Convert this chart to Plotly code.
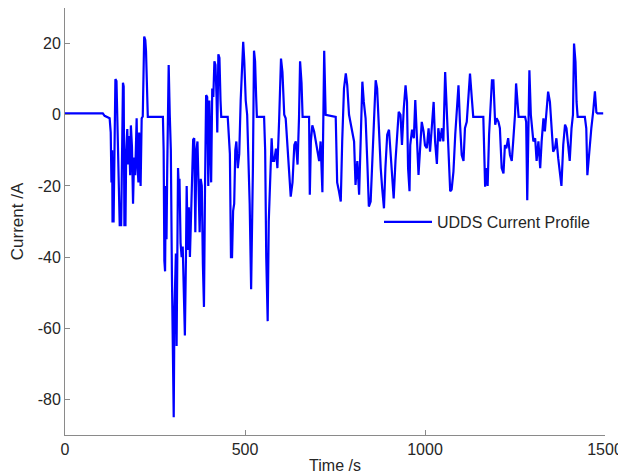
import plotly.graph_objects as go

# Time (s) and current (A)
time_s = [
    0, 105, 110, 124, 127, 129, 131, 132, 135, 137, 140, 143, 146, 149, 152, 156, 158, 161, 163,
    165, 168, 170, 173, 175, 178, 181, 183, 186, 189, 192, 195, 197, 199, 201, 204, 206, 208, 210,
    213, 216, 220, 223, 225, 227, 230, 272, 274, 276, 278, 280, 282, 284, 286, 288, 291, 294, 297,
    299, 302, 304, 306, 308, 310, 312, 314, 316, 318, 321, 324, 327, 330, 333, 336, 338, 341, 344,
    347, 350, 353, 356, 359, 362, 365, 368, 371, 374, 377, 380, 383, 386, 389, 392, 395, 398, 401,
    404, 406, 409, 412, 415, 418, 421, 423, 426, 429, 432, 434, 452, 455, 458, 461, 464, 467, 470,
    473, 476, 480, 484, 488, 492, 495, 498, 502, 506, 510, 513, 517, 520, 522, 525, 528, 531, 533,
    553, 556, 559, 563, 566, 570, 574, 577, 581, 586, 590, 595, 600, 604, 609, 613, 618, 623, 627,
    632, 637, 641, 646, 650, 653, 657, 660, 678, 680, 683, 687, 692, 697, 701, 706, 710, 715, 720,
    724, 752, 756, 761, 766, 770, 775, 780, 784, 789, 793, 798, 803, 807, 812, 817, 821, 826, 830,
    835, 840, 844, 849, 853, 858, 863, 867, 872, 877, 881, 886, 890, 895, 900, 904, 909, 913, 918,
    923, 927, 932, 936, 941, 946, 950, 953, 957, 959, 964, 969, 973, 978, 982, 987, 991, 996, 1000,
    1005, 1010, 1014, 1019, 1024, 1028, 1033, 1037, 1042, 1047, 1051, 1056, 1061, 1065, 1070, 1074,
    1079, 1084, 1088, 1093, 1097, 1102, 1107, 1111, 1116, 1120, 1125, 1130, 1134, 1162, 1165, 1167,
    1172, 1174, 1178, 1181, 1186, 1190, 1192, 1195, 1199, 1204, 1208, 1213, 1218, 1222, 1226, 1231,
    1236, 1241, 1245, 1250, 1253, 1258, 1260, 1278, 1281, 1284, 1287, 1290, 1294, 1297, 1301, 1306,
    1310, 1315, 1320, 1324, 1329, 1333, 1338, 1342, 1347, 1352, 1356, 1361, 1365, 1370, 1375, 1379,
    1384, 1389, 1393, 1398, 1402, 1407, 1411, 1414, 1418, 1421, 1424, 1444, 1448, 1451, 1454, 1457,
    1462, 1467, 1472, 1476, 1479, 1495,
]
current_a = [
    0.4, 0.4, -0.3, -1, -5, -19, -10, -30, -30, -5, 10, 9.5, -3, -20, -31, -31, -8, 9, 8,
    -31, -31, -10, -4, -14, -6, -17, -3, -9, -25, -12, -17, -4, -1, -14, -19, -5, -17, -20,
    -1, -0.5, 22, 21, 18, 8, -0.6, -0.6, -10, -41, -44, -20, -35, -15, 12, 14, 0, -10, -45,
    -68, -85, -55, -40, -39, -65, -45, -15, -20, -18, -36, -40, -37, -56, -62, -40, -20, -38, -26,
    -40, -30, -20, -7, -6.6, -33, -10, -7.5, -20, -33, -18, -20, -42, -54, -20, 5.5, 5, -20, 4,
    -10, -19, 7.4, 5, 15, 14, 5, -5, 17, 16, 4, -0.6, -0.6, -5, -11, -40, -40, -27, -25,
    -10, -7.5, -15, -11, 4, 12, 20.5, 15, 4, 0, -12, -25, -49, -30, -15, 18, 15, 5, -0.6,
    -0.6, -10, -40, -58, -30, -20, -6.6, -13, -13, -9.5, -15, -0.9, 15.8, 12, 0, -1, -8.5, -18, -23,
    -19, -8.5, -7.5, -14, -1, 15, 9, -0.6, -0.6, -22.5, -7.5, -3, -4.7, -7.5, -9.4, -13, -7.5, -21.8, 18,
    0, -0.6, -19, -21.5, -24.4, -7.5, 7.4, 11.6, 8.3, 0, -2, -4.7, -7.5, -19.7, -13, -22.5, -5.6, 9.3, 3.6,
    -1, -14, -25.8, -24.4, -13, 0.8, 9.7, 7.4, -5.6, -15, -20.6, -26.3, -15, -5.6, -4.2, -9.4, -18, -23.5, -13,
    -5.6, 0.8, 0, -8.5, 1.7, 8.3, 3.6, -15, -21.5, -8.5, -4.2, -6.6, 4.1, -7.5, -16.9, -8.5, -2, -4.7, -8.6,
    -9.4, -3.8, -10.4, -3.8, 3.6, -7.5, -13.8, -3.8, -7.5, -3.8, -7.5, 12, -1, -13, -21.5, -21,
    -16, -5.6, 0.8, 8.3, -2, -11.3, -13, -3.8, -2, 5.6, 11.6, 4.7, -0.6, -0.6, -15, -20.2,
    -15, -20, -5.6, -0.6, 9.7, 9.7, 5.6, -2.8, -1, -2, -3.8, -15, -16.5, -8.5, -9.4, -6.6,
    -11.3, -13, -7.5, 0, 8.8, 3.6, -0.6, -0.6, -2, -24, -5.6, 12.5, 0, -2.8, -7.5, -6.6,
    -13, -7.5, -15, -7.5, -1, -4.7, 1.7, 6.5, 3.6, -5.6, -10.4, -9.4, -6.6, -12.2, -16, -20,
    -8.5, -2.8, -3.8, -8.5, -13, -3.8, 0, 20, 14.9, 3.6, -0.6, -0.6, -3.8, -17, -13, -9.4,
    -3.8, 0.7, 6.6, 0.7, 0.4, 0.4,
]

x_ticks = [0, 500, 1000, 1500]
x_tick_labels = ["0", "500", "1000", "1500"]
y_ticks = [-80, -60, -40, -20, 0, 20]
y_tick_labels = ["-80", "-60", "-40", "-20", "0", "20"]

FONT = "Liberation Sans, Arial, Helvetica, sans-serif"
TEXT = "#262626"
AXIS = "#8a8a8a"

fig = go.Figure()
fig.add_trace(go.Scatter(
    x=time_s, y=current_a, mode="lines", name="UDDS Current Profile",
    line=dict(color="#0000ff", width=2.2),
))

# the page body adds an 8px offset, so margins are reduced accordingly
fig.update_layout(
    width=626, height=473,
    margin=dict(l=57, r=29, t=0, b=46),
    paper_bgcolor="white", plot_bgcolor="white",
    font=dict(family=FONT, size=16, color=TEXT),
    showlegend=True,
    legend=dict(
        x=314 / 540, y=213 / 427, xanchor="left", yanchor="middle",
        bgcolor="rgba(0,0,0,0)", borderwidth=0, font=dict(size=16, color=TEXT),
        itemwidth=48,
    ),
)
fig.update_xaxes(
    range=[0, 1500], tickvals=x_ticks, ticktext=x_tick_labels,
    ticks="inside", ticklen=5, tickcolor=AXIS,
    showline=True, linecolor=AXIS, linewidth=1, showgrid=False, zeroline=False,
    automargin=False,
    title=dict(text="Time /s", standoff=2, font=dict(size=16)),
    tickfont=dict(size=16),
)
fig.update_yaxes(
    range=[-90, 30], tickvals=y_ticks, ticktext=y_tick_labels,
    ticks="inside", ticklen=5, tickcolor=AXIS,
    showline=True, linecolor=AXIS, linewidth=1, showgrid=False, zeroline=False,
    automargin=False,
    title=dict(text="Current /A", standoff=10, font=dict(size=17)),
    tickfont=dict(size=16),
)

fig.write_html("out.html")
